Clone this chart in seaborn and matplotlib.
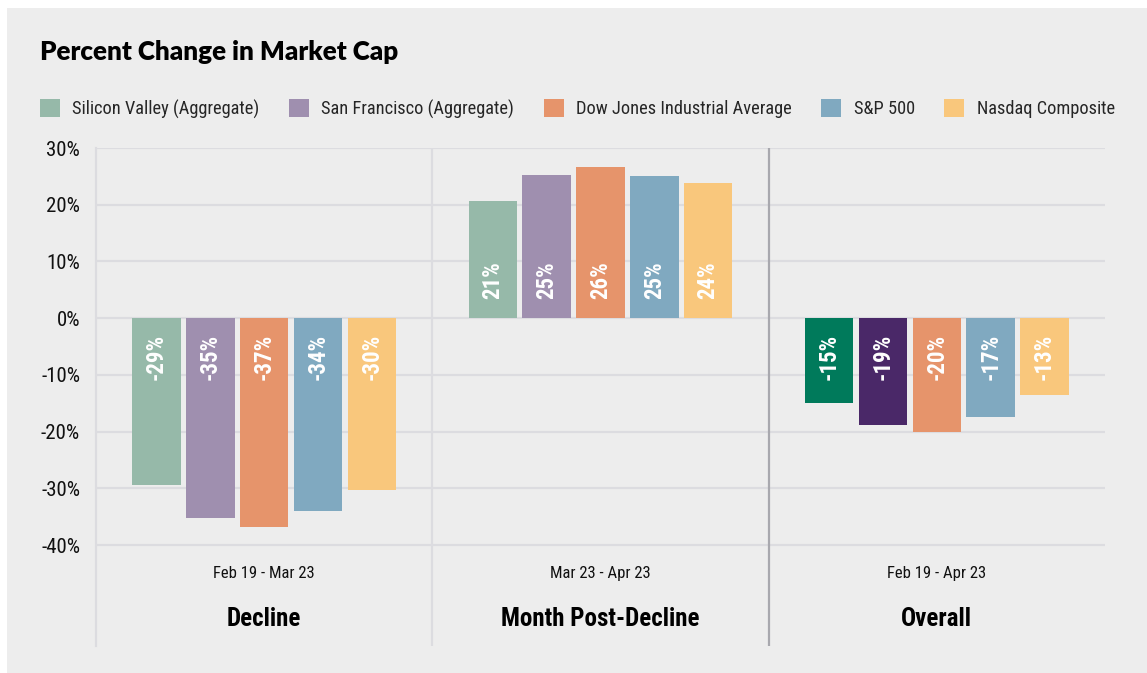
import numpy as np
import pandas as pd
import matplotlib
matplotlib.use('Agg')
import matplotlib.pyplot as plt
from matplotlib import font_manager
from matplotlib.patches import Rectangle
import seaborn as sns

# data
periods = ['Decline', 'Month Post-Decline', 'Overall']
date_ranges = ['Feb 19 - Mar 23', 'Mar 23 - Apr 23', 'Feb 19 - Apr 23']
series = ['Silicon Valley (Aggregate)', 'San Francisco (Aggregate)',
          'Dow Jones Industrial Average', 'S&P 500', 'Nasdaq Composite']
silicon_valley = [-29.4, 20.6, -15.0]
san_francisco = [-35.3, 25.2, -18.8]
dow_jones = [-36.9, 26.6, -20.0]
sp500 = [-34.0, 25.0, -17.5]
nasdaq = [-30.3, 23.9, -13.6]
bar_labels = [['-29%', '21%', '-15%'],
              ['-35%', '25%', '-19%'],
              ['-37%', '26%', '-20%'],
              ['-34%', '25%', '-17%'],
              ['-30%', '24%', '-13%']]
y_ticks = [-40, -30, -20, -10, 0, 10, 20, 30]

colors = ['#96B9A9', '#9F8FAF', '#E6946B', '#80A9C0', '#F9C77C']
dark_overall = {0: '#007A5B', 1: '#4A2868'}  # highlighted bars in "Overall"

rows = []
for name, vals in zip(series, [silicon_valley, san_francisco, dow_jones, sp500, nasdaq]):
    for p, v in zip(periods, vals):
        rows.append({'period': p, 'series': name, 'value': v})
df = pd.DataFrame(rows)

sns.set_style('white')

# pick a narrow font if one is around
installed = {f.name for f in font_manager.fontManager.ttflist}
condensed_dejavu = any('DejaVu' in f.name and 'Condensed' in f.fname
                       for f in font_manager.fontManager.ttflist)
stretch = 'normal'
narrow = 'Roboto'
for cand in ['Liberation Sans Narrow', 'Roboto Condensed', 'Open Sans Condensed', 'Arial Narrow']:
    if cand in installed:
        narrow = cand
        break
else:
    if condensed_dejavu:
        narrow, stretch = 'DejaVu Sans', 'condensed'
plt.rcParams['font.family'] = [narrow, 'DejaVu Sans']
plt.rcParams['font.stretch'] = stretch
scale = 1.0 if narrow != 'Roboto' else 0.93

fig = plt.figure(figsize=(11.47, 6.73), dpi=100, facecolor='white')
fig.patches.append(Rectangle((7 / 1147, 0), 1, 1 - 8 / 673, transform=fig.transFigure,
                             facecolor='#EDEDED', edgecolor='none', zorder=-10))
ax = fig.add_axes([96 / 1147, 1 - 646 / 673, (1105 - 96) / 1147, (646 - 148) / 673])
ax.set_facecolor('none')

sns.barplot(data=df, x='period', y='value', hue='series', order=periods,
            hue_order=series, palette=colors, saturation=1, width=0.8, gap=0.1,
            linewidth=0, ax=ax, zorder=3)

handles, labels = ax.get_legend_handles_labels()
if ax.legend_ is not None:
    ax.legend_.remove()

# darker colours for the first two bars of the overall group
for i, c in dark_overall.items():
    ax.containers[i].patches[2].set_facecolor(c)

# value labels, rotated inside the bars near zero
for i, cont in enumerate(ax.containers):
    for j, bar in enumerate(cont.patches):
        h = bar.get_height()
        xc = bar.get_x() + bar.get_width() / 2
        off = -11.5 if h < 0 else 13.5
        ax.annotate(bar_labels[i][j], (xc, 0), xytext=(0, off), textcoords='offset points',
                    rotation=90, ha='center', va='top' if h < 0 else 'bottom',
                    color='white', fontsize=16.5 * scale, fontweight='bold', zorder=5)

ax.set_xlim(-0.5, 2.5)
ax.set_ylim(-57.8, 30)
grid_c = '#DCDCE0'
ax.hlines(y_ticks, -0.5, 2.5, color=grid_c, lw=1.6, zorder=1)
ax.axvline(0.5, color=grid_c, lw=1.6, zorder=1)
ax.axvline(1.5, color='#A8A8AE', lw=1.6, zorder=1)
for s in ['top', 'right', 'bottom']:
    ax.spines[s].set_visible(False)
ax.spines['left'].set_color(grid_c)
ax.spines['left'].set_linewidth(1.6)

ax.set_yticks(y_ticks)
ax.set_yticklabels([f'{t}%' for t in y_ticks], fontsize=15 * scale, color='#111111')
ax.tick_params(axis='y', length=0, pad=11.5)
ax.set_xticks([])
ax.set_xlabel('')
ax.set_ylabel('')

for i, (p, d) in enumerate(zip(periods, date_ranges)):
    ax.text(i, -45, d, ha='center', va='center', fontsize=12 * scale, color='#111111')
    ax.text(i, -53, p, ha='center', va='center', fontsize=18 * scale, fontweight='bold',
            color='#000000')

fig.text(40 / 1147, 1 - 52 / 673, 'Percent Change in Market Cap', ha='left', va='center',
         fontsize=18.7, fontweight='heavy', family=['Lato', 'DejaVu Sans'], color='#000000')

fig.legend(handles, labels, loc='center left', bbox_to_anchor=(40 / 1147, 1 - 109 / 673),
           ncol=5, frameon=False, fontsize=13.2 * scale, borderpad=0, borderaxespad=0,
           handlelength=1.1, handleheight=1.1, handletextpad=0.67, columnspacing=1.6)

fig.savefig('out.png', dpi=100, facecolor=fig.get_facecolor())
